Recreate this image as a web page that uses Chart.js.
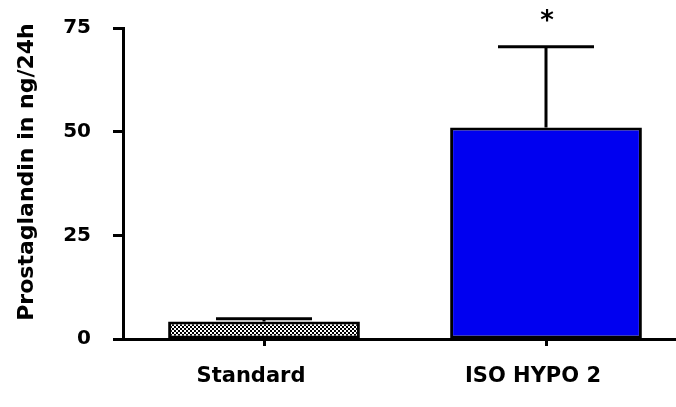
<!DOCTYPE html>
<html><head><meta charset="utf-8">
<script src="https://cdn.jsdelivr.net/npm/chart.js@4/dist/chart.umd.min.js"></script>
<style>html,body{margin:0;padding:0;overflow:hidden;background:#fff;width:676px;height:407px}
#wrap{width:700px;height:407px}</style>
</head><body><div id="wrap"><canvas id="c" width="700" height="407"></canvas></div>
<script>
const categories = ["Standard", "ISO HYPO 2"];
const means = [4.2, 51.0];
const errors = [0.7, 19.5];
const significance = ["", "*"];
const yTicks = [0, 25, 50, 75];
const yTitle = "Prostaglandin in ng/24h";

const pc = document.createElement('canvas');
pc.width = 4; pc.height = 4;
const px = pc.getContext('2d');
px.fillStyle = '#fff'; px.fillRect(0,0,4,4);
px.fillStyle = '#000'; px.fillRect(0,0,2,2); px.fillRect(2,2,2,2);
const checker = px.createPattern(pc, 'repeat');

const errPlugin = {
  id: 'err',
  afterDatasetsDraw(chart) {
    const ctx = chart.ctx, xs = chart.scales.x, ys = chart.scales.y;
    ctx.save();
    ctx.strokeStyle = '#000'; ctx.lineWidth = 3; ctx.lineCap = 'butt';
    means.forEach((m, i) => {
      const x = xs.getPixelForValue(i);
      const y0 = ys.getPixelForValue(m);
      const y1 = ys.getPixelForValue(m + errors[i]);
      ctx.beginPath();
      ctx.moveTo(x, y0); ctx.lineTo(x, y1);
      ctx.moveTo(x - 48, y1); ctx.lineTo(x + 48, y1);
      ctx.stroke();
      if (significance[i]) {
        ctx.fillStyle = '#000';
        ctx.font = 'bold 26px "DejaVu Sans"';
        ctx.textAlign = 'center'; ctx.textBaseline = 'middle';
        ctx.fillText(significance[i], x + 1, y1 - 24);
      }
    });
    ctx.save();
    ctx.translate(27, 172);
    ctx.rotate(-Math.PI / 2);
    ctx.fillStyle = '#000';
    ctx.font = 'bold 22px "DejaVu Sans"';
    ctx.textAlign = 'center'; ctx.textBaseline = 'middle';
    ctx.fillText(yTitle, 0, 0);
    ctx.restore();
    ctx.restore();
  }
};

new Chart(document.getElementById('c'), {
  type: 'bar',
  data: {
    labels: categories,
    datasets: [{
      data: means,
      backgroundColor: [checker, '#0000f0'],
      borderColor: '#000',
      borderWidth: 3,
      borderSkipped: false,
      categoryPercentage: 1,
      barPercentage: 0.68
    }]
  },
  options: {
    responsive: false,
    animation: false,
    layout: { padding: { top: 28, right: 13, left: 0, bottom: 0 } },
    plugins: { legend: { display: false }, tooltip: { enabled: false } },
    scales: {
      x: {
        offset: true,
        grid: { drawOnChartArea: false, drawTicks: true, tickLength: 7, tickWidth: 3, tickColor: '#000', offset: false },
        border: { display: true, color: '#000', width: 3 },
        ticks: { color: '#000', font: { family: 'DejaVu Sans', weight: 'bold', size: 21 }, padding: 18, maxRotation: 0, labelOffset: -13 },
        afterFit(s) { s.height = 68; }
      },
      y: {
        min: 0, max: 75,
        afterBuildTicks(s) { s.ticks = yTicks.map(v => ({ value: v })); },
        grid: { drawOnChartArea: false, drawTicks: true, tickLength: 10, tickWidth: 3, tickColor: '#000' },
        border: { display: true, color: '#000', width: 3 },
        ticks: { color: '#000', font: { family: 'DejaVu Sans', weight: 'bold', size: 20 }, padding: 22 },
        afterFit(s) { s.width = 123; s.paddingTop = 0; s.paddingBottom = 0; }
      }
    }
  },
  plugins: [errPlugin]
});
</script>
</body></html>
